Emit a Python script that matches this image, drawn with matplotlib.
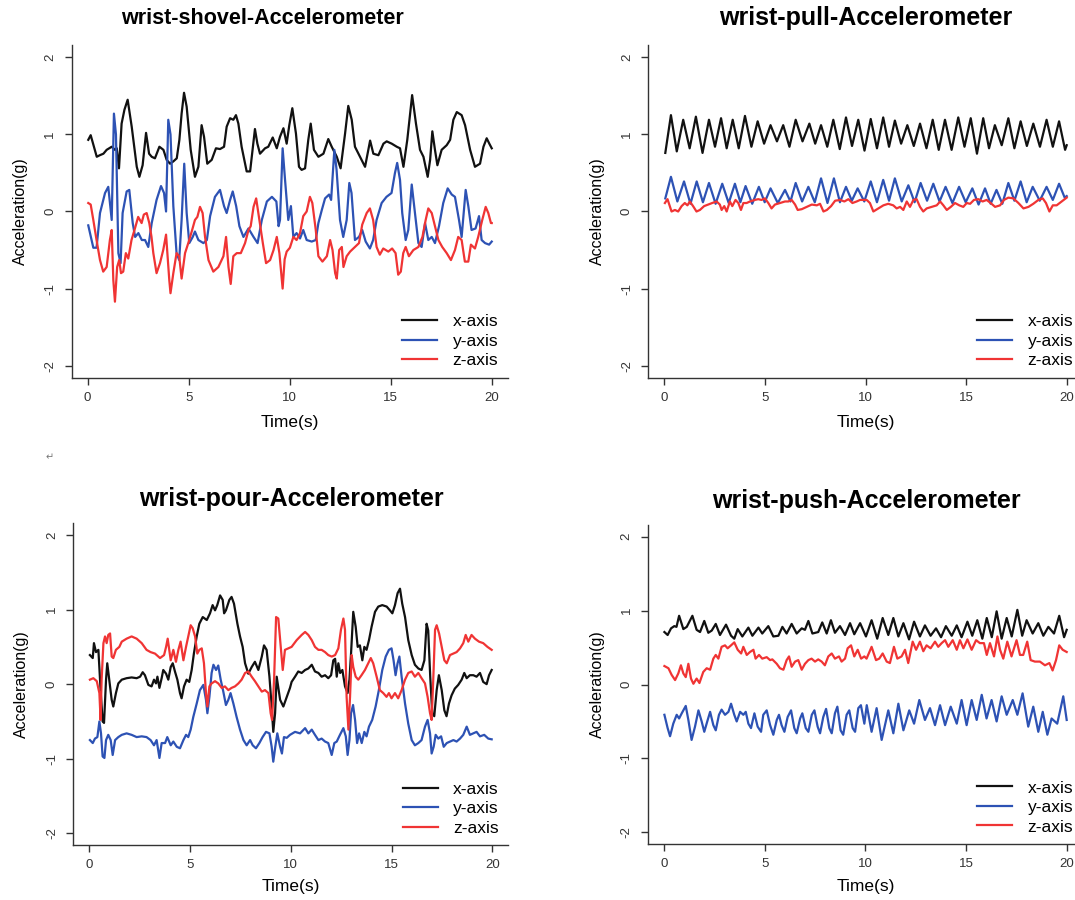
import matplotlib.pyplot as plt

plt.rcParams['font.family'] = ['Liberation Sans', 'DejaVu Sans']
plt.rcParams['axes.unicode_minus'] = False

# ---- data: (time s, acceleration g) ----
shovel_x = [(0.03, 0.93), (0.15, 0.99), (0.45, 0.71), (0.6, 0.73), (0.78, 0.75), (0.94, 0.8), (1.19, 0.84),
            (1.35, 0.8), (1.44, 0.82), (1.55, 0.56), (1.68, 1.14), (1.82, 1.32), (1.98, 1.45), (2.18, 1.1),
            (2.43, 0.58), (2.56, 0.45), (2.72, 0.6), (2.89, 1.02), (3.04, 0.75), (3.17, 0.71), (3.33, 0.69),
            (3.55, 0.84), (3.75, 0.8), (3.91, 0.67), (4.08, 0.62), (4.24, 0.65), (4.41, 0.69), (4.54, 0.93),
            (4.65, 1.27), (4.77, 1.54), (4.9, 1.36), (5.1, 0.8), (5.31, 0.45), (5.48, 0.58), (5.64, 1.12),
            (5.76, 0.97), (5.92, 0.62), (6.14, 0.67), (6.35, 0.82), (6.55, 0.81), (6.75, 0.84), (6.88, 1.1),
            (7.05, 1.21), (7.21, 1.19), (7.34, 1.25), (7.46, 1.14), (7.62, 0.84), (7.87, 0.52), (8.04, 0.52),
            (8.28, 1.07), (8.4, 0.88), (8.53, 0.75), (8.78, 0.82), (8.94, 0.84), (9.16, 0.96), (9.36, 0.82),
            (9.52, 0.97), (9.69, 1.08), (9.85, 0.88), (9.98, 1.12), (10.13, 1.34), (10.31, 1.01), (10.46, 0.58),
            (10.59, 0.54), (10.76, 0.56), (10.92, 0.93), (11.04, 1.14), (11.2, 0.8), (11.42, 0.71), (11.67, 0.75),
            (11.91, 0.94), (12.08, 0.84), (12.33, 0.71), (12.52, 0.56), (12.74, 1.01), (12.9, 1.37), (13.07, 1.19),
            (13.23, 0.84), (13.48, 0.71), (13.73, 0.58), (13.98, 0.92), (14.14, 0.75), (14.39, 0.73), (14.64, 0.88),
            (14.8, 0.91), (15.05, 0.88), (15.3, 0.84), (15.46, 0.82), (15.63, 0.58), (15.82, 0.93), (16.06, 1.51),
            (16.25, 1.14), (16.45, 0.8), (16.62, 0.71), (16.83, 0.45), (16.95, 0.67), (17.06, 1.04), (17.19, 0.8),
            (17.31, 0.6), (17.52, 0.8), (17.77, 0.86), (17.94, 0.93), (18.1, 1.19), (18.27, 1.29), (18.51, 1.25),
            (18.68, 1.12), (18.93, 0.8), (19.17, 0.58), (19.42, 0.62), (19.59, 0.84), (19.75, 0.95), (19.88, 0.88),
            (20.0, 0.82)]
shovel_y = [(0.03, -0.18), (0.28, -0.47), (0.44, -0.47), (0.61, -0.02), (0.86, 0.24), (1.02, 0.32), (1.19, -0.11),
            (1.3, 1.27), (1.4, 1.0), (1.52, -0.54), (1.63, -0.67), (1.73, -0.02), (1.93, 0.26), (2.06, 0.28),
            (2.23, -0.15), (2.35, -0.33), (2.51, -0.28), (2.68, -0.37), (2.84, -0.37), (3.0, -0.46), (3.17, -0.15),
            (3.41, 0.15), (3.63, 0.33), (3.78, 0.24), (3.88, 0.0), (3.99, 1.19), (4.1, 1.0), (4.24, 0.07),
            (4.4, -0.54), (4.53, -0.63), (4.65, -0.11), (4.78, 0.62), (4.9, -0.02), (5.03, -0.41), (5.2, -0.33),
            (5.31, -0.26), (5.48, -0.37), (5.73, -0.41), (5.9, -0.37), (6.06, -0.06), (6.3, 0.19), (6.55, 0.28),
            (6.75, 0.07), (6.88, -0.02), (7.05, 0.15), (7.18, 0.26), (7.35, 0.07), (7.51, -0.19), (7.71, -0.33),
            (7.96, -0.22), (8.21, -0.33), (8.41, -0.41), (8.62, -0.11), (8.87, 0.13), (9.12, 0.19), (9.34, 0.13),
            (9.45, -0.19), (9.52, -0.11), (9.65, 0.82), (9.77, 0.41), (9.93, -0.11), (10.06, 0.07), (10.18, -0.33),
            (10.34, -0.28), (10.51, -0.35), (10.67, -0.24), (10.84, -0.37), (11.09, -0.39), (11.29, -0.37),
            (11.42, -0.15), (11.59, 0.02), (11.75, 0.17), (11.95, 0.22), (12.05, 0.15), (12.21, 0.8), (12.32, 0.54),
            (12.49, -0.11), (12.65, -0.33), (12.82, -0.11), (12.95, 0.37), (13.06, 0.24), (13.23, -0.37),
            (13.43, -0.33), (13.59, -0.24), (13.76, -0.39), (13.97, -0.48), (14.13, -0.37), (14.3, -0.11),
            (14.55, 0.11), (14.79, 0.19), (15.04, 0.24), (15.21, 0.5), (15.32, 0.63), (15.46, 0.41), (15.57, -0.02),
            (15.74, -0.37), (15.87, -0.24), (16.04, 0.35), (16.2, -0.02), (16.37, -0.41), (16.53, -0.46),
            (16.7, -0.15), (16.86, -0.37), (17.03, -0.33), (17.19, -0.41), (17.39, -0.19), (17.6, 0.11), (17.82, 0.3),
            (18.02, 0.22), (18.18, 0.19), (18.38, -0.11), (18.51, -0.33), (18.71, 0.28), (18.84, 0.07), (19.0, -0.24),
            (19.2, -0.22), (19.37, -0.06), (19.5, -0.37), (19.67, -0.41), (19.87, -0.43), (20.0, -0.39)]
shovel_z = [(0.03, 0.11), (0.15, 0.09), (0.28, -0.11), (0.44, -0.37), (0.61, -0.63), (0.77, -0.78), (0.94, -0.72),
            (1.1, -0.37), (1.19, -0.24), (1.27, -0.89), (1.35, -1.17), (1.46, -0.72), (1.56, -0.63), (1.65, -0.8),
            (1.76, -0.78), (1.89, -0.54), (2.01, -0.61), (2.17, -0.37), (2.34, -0.22), (2.5, -0.07), (2.67, -0.15),
            (2.78, -0.04), (2.92, -0.02), (3.05, -0.15), (3.16, -0.33), (3.25, -0.54), (3.41, -0.8), (3.58, -0.67),
            (3.74, -0.5), (3.88, -0.3), (4.04, -0.89), (4.1, -1.06), (4.24, -0.8), (4.4, -0.54), (4.53, -0.58),
            (4.65, -0.87), (4.82, -0.54), (4.98, -0.41), (5.15, -0.26), (5.31, -0.11), (5.43, -0.07), (5.56, 0.06),
            (5.69, -0.02), (5.81, -0.33), (5.98, -0.63), (6.22, -0.78), (6.47, -0.72), (6.72, -0.58), (6.85, -0.33),
            (6.97, -0.72), (7.08, -0.94), (7.21, -0.58), (7.38, -0.54), (7.58, -0.54), (7.79, -0.41), (7.96, -0.24),
            (8.07, -0.19), (8.21, 0.06), (8.34, 0.17), (8.5, -0.11), (8.67, -0.41), (8.83, -0.67), (9.03, -0.63),
            (9.2, -0.5), (9.36, -0.33), (9.49, -0.54), (9.65, -1.0), (9.75, -0.62), (9.85, -0.52), (10.01, -0.47),
            (10.18, -0.33), (10.34, -0.37), (10.51, -0.28), (10.67, -0.06), (10.84, 0.0), (11.0, 0.19),
            (11.12, 0.11), (11.29, -0.24), (11.42, -0.58), (11.62, -0.65), (11.84, -0.58), (12.0, -0.37),
            (12.12, -0.5), (12.25, -0.8), (12.33, -0.87), (12.45, -0.5), (12.58, -0.46), (12.66, -0.72),
            (12.82, -0.58), (12.99, -0.52), (13.23, -0.46), (13.43, -0.41), (13.59, -0.17), (13.81, -0.02),
            (13.97, 0.04), (14.13, -0.11), (14.3, -0.46), (14.46, -0.56), (14.63, -0.48), (14.88, -0.52),
            (15.07, -0.48), (15.24, -0.54), (15.37, -0.82), (15.5, -0.78), (15.62, -0.54), (15.74, -0.46),
            (15.9, -0.58), (16.12, -0.5), (16.37, -0.46), (16.57, -0.33), (16.73, -0.11), (16.86, 0.04),
            (17.03, -0.02), (17.19, -0.19), (17.36, -0.37), (17.55, -0.46), (17.77, -0.54), (17.98, -0.63),
            (18.18, -0.5), (18.34, -0.33), (18.51, -0.37), (18.67, -0.65), (18.84, -0.65), (18.97, -0.43),
            (19.17, -0.48), (19.33, -0.33), (19.53, -0.11), (19.7, 0.06), (19.83, -0.02), (19.96, -0.15),
            (20.0, -0.15)]

pull_x = [(0.05, 0.76), (0.33, 1.25), (0.62, 0.78), (0.94, 1.19), (1.26, 0.82), (1.57, 1.23), (1.9, 0.76),
          (2.22, 1.19), (2.52, 0.84), (2.82, 1.21), (3.1, 0.82), (3.4, 1.19), (3.7, 0.82), (4.01, 1.24),
          (4.33, 0.84), (4.64, 1.17), (4.96, 0.88), (5.28, 1.12), (5.6, 0.91), (5.91, 1.12), (6.22, 0.84),
          (6.53, 1.19), (6.87, 0.91), (7.21, 1.14), (7.5, 0.88), (7.79, 1.12), (8.1, 0.84), (8.4, 1.19),
          (8.72, 0.81), (9.03, 1.22), (9.33, 0.85), (9.64, 1.19), (9.95, 0.79), (10.26, 1.2), (10.57, 0.82),
          (10.88, 1.22), (11.17, 0.84), (11.46, 1.18), (11.77, 0.88), (12.08, 1.12), (12.4, 0.85), (12.71, 1.14),
          (13.03, 0.82), (13.34, 1.19), (13.64, 0.8), (13.95, 1.19), (14.28, 0.8), (14.61, 1.22), (14.92, 0.84),
          (15.23, 1.21), (15.54, 0.75), (15.85, 1.21), (16.14, 0.82), (16.43, 1.12), (16.77, 0.86), (17.1, 1.21),
          (17.4, 0.82), (17.71, 1.17), (18.02, 0.85), (18.34, 1.14), (18.67, 0.84), (19.0, 1.19), (19.31, 0.84),
          (19.62, 1.17), (19.92, 0.8), (20.0, 0.86)]
pull_y = [(0.05, 0.17), (0.33, 0.45), (0.65, 0.13), (0.98, 0.39), (1.3, 0.1), (1.61, 0.39), (1.92, 0.12),
          (2.22, 0.37), (2.55, 0.1), (2.88, 0.36), (3.2, 0.11), (3.51, 0.36), (3.78, 0.12), (4.04, 0.33),
          (4.37, 0.1), (4.7, 0.32), (4.99, 0.12), (5.28, 0.3), (5.64, 0.11), (6.0, 0.28), (6.27, 0.13),
          (6.53, 0.37), (6.85, 0.13), (7.16, 0.32), (7.48, 0.12), (7.79, 0.43), (8.11, 0.11), (8.43, 0.43),
          (8.73, 0.12), (9.03, 0.32), (9.32, 0.14), (9.61, 0.3), (9.94, 0.13), (10.26, 0.39), (10.57, 0.12),
          (10.88, 0.41), (11.17, 0.14), (11.46, 0.43), (11.8, 0.13), (12.13, 0.34), (12.44, 0.12), (12.74, 0.37),
          (13.06, 0.14), (13.37, 0.36), (13.68, 0.13), (13.98, 0.32), (14.32, 0.11), (14.65, 0.32), (14.98, 0.12),
          (15.31, 0.3), (15.62, 0.09), (15.94, 0.3), (16.22, 0.1), (16.51, 0.28), (16.8, 0.1), (17.1, 0.37),
          (17.4, 0.14), (17.71, 0.39), (18.01, 0.12), (18.31, 0.32), (18.66, 0.14), (19.0, 0.32), (19.31, 0.15),
          (19.62, 0.36), (19.9, 0.18), (20.0, 0.2)]
pull_z = [(0.03, 0.11), (0.16, 0.16), (0.36, 0.0), (0.53, 0.02), (0.69, 0.0), (0.86, 0.07), (1.02, 0.11),
          (1.15, 0.08), (1.27, 0.13), (1.43, 0.07), (1.6, 0.0), (1.77, 0.02), (1.98, 0.07), (2.18, 0.09),
          (2.38, 0.11), (2.6, 0.13), (2.76, 0.09), (2.85, 0.02), (2.98, 0.07), (3.1, 0.0), (3.26, 0.13),
          (3.38, 0.07), (3.54, 0.15), (3.68, 0.11), (3.81, 0.02), (3.93, 0.11), (4.09, 0.11), (4.26, 0.13),
          (4.5, 0.15), (4.67, 0.16), (4.83, 0.15), (5.0, 0.17), (5.17, 0.11), (5.33, 0.04), (5.5, 0.09),
          (5.75, 0.11), (6.0, 0.13), (6.16, 0.13), (6.33, 0.15), (6.5, 0.09), (6.63, 0.02), (6.83, 0.03),
          (7.08, 0.06), (7.33, 0.09), (7.58, 0.08), (7.74, 0.1), (7.91, 0.0), (8.08, 0.02), (8.29, 0.07),
          (8.49, 0.14), (8.74, 0.15), (8.95, 0.13), (9.15, 0.16), (9.35, 0.11), (9.56, 0.13), (9.73, 0.15),
          (9.9, 0.15), (10.06, 0.15), (10.22, 0.11), (10.39, 0.0), (10.64, 0.04), (10.89, 0.08), (11.13, 0.1),
          (11.38, 0.08), (11.55, 0.04), (11.72, 0.06), (11.88, 0.02), (12.05, 0.13), (12.21, 0.06), (12.38, 0.15),
          (12.54, 0.16), (12.71, 0.06), (12.87, 0.0), (13.04, 0.04), (13.29, 0.06), (13.54, 0.08), (13.71, 0.13),
          (13.87, 0.08), (14.04, 0.02), (14.24, 0.06), (14.45, 0.11), (14.66, 0.08), (14.86, 0.06), (15.03, 0.11),
          (15.2, 0.1), (15.39, 0.15), (15.61, 0.16), (15.82, 0.13), (16.02, 0.15), (16.22, 0.11), (16.44, 0.06),
          (16.69, 0.08), (16.88, 0.15), (17.1, 0.18), (17.35, 0.17), (17.6, 0.11), (17.85, 0.04), (18.1, 0.06),
          (18.34, 0.1), (18.59, 0.15), (18.81, 0.17), (18.97, 0.11), (19.14, 0.0), (19.31, 0.08), (19.5, 0.08),
          (19.75, 0.13), (20.0, 0.18)]

pour_x = [(0.03, 0.39), (0.17, 0.35), (0.23, 0.55), (0.33, 0.43), (0.45, 0.46), (0.56, -0.08), (0.66, -0.5),
          (0.73, -0.52), (0.83, 0.06), (0.89, 0.28), (0.99, 0.06), (1.11, -0.21), (1.19, -0.3), (1.32, -0.12),
          (1.44, 0.01), (1.61, 0.06), (1.85, 0.08), (2.1, 0.09), (2.35, 0.08), (2.52, 0.1), (2.65, 0.16),
          (2.76, 0.12), (2.93, -0.01), (3.09, -0.03), (3.21, 0.06), (3.31, 0.01), (3.38, 0.1), (3.48, -0.05),
          (3.59, 0.08), (3.67, 0.19), (3.81, 0.14), (3.92, 0.06), (4.04, 0.23), (4.14, 0.28), (4.25, 0.17),
          (4.37, 0.06), (4.5, -0.12), (4.58, -0.19), (4.7, -0.03), (4.83, 0.06), (4.96, 0.03), (5.08, 0.19),
          (5.19, 0.41), (5.33, 0.64), (5.46, 0.81), (5.63, 0.9), (5.83, 0.86), (5.99, 0.95), (6.12, 1.06),
          (6.24, 0.99), (6.35, 1.06), (6.49, 1.19), (6.62, 1.13), (6.69, 0.95), (6.78, 0.99), (6.95, 1.13),
          (7.06, 1.17), (7.18, 1.08), (7.35, 0.81), (7.48, 0.64), (7.61, 0.5), (7.73, 0.28), (7.89, 0.14),
          (8.06, 0.23), (8.22, 0.3), (8.39, 0.19), (8.56, 0.37), (8.67, 0.52), (8.8, 0.46), (8.94, 0.1),
          (9.05, -0.3), (9.13, -0.64), (9.22, -0.39), (9.3, 0.1), (9.47, -0.21), (9.63, -0.3), (9.8, -0.17),
          (9.96, -0.05), (10.04, 0.03), (10.21, 0.1), (10.37, 0.17), (10.54, 0.15), (10.71, 0.19), (10.87, 0.21),
          (11.04, 0.26), (11.2, 0.17), (11.37, 0.15), (11.53, 0.1), (11.7, 0.12), (11.86, 0.08), (12.0, 0.12),
          (12.11, 0.32), (12.2, 0.34), (12.28, 0.1), (12.36, 0.28), (12.45, 0.15), (12.56, 0.19), (12.69, -0.03),
          (12.82, -0.12), (12.91, 0.06), (12.99, 0.41), (13.1, 0.97), (13.22, 0.77), (13.32, 0.5), (13.43, 0.52),
          (13.55, 0.32), (13.65, 0.5), (13.76, 0.46), (13.88, 0.59), (14.01, 0.77), (14.18, 0.97), (14.34, 1.04),
          (14.54, 1.06), (14.76, 1.04), (14.92, 0.99), (15.04, 0.95), (15.17, 1.06), (15.3, 1.22), (15.42, 1.28),
          (15.53, 1.08), (15.67, 0.9), (15.83, 0.59), (16.0, 0.39), (16.16, 0.26), (16.33, 0.21), (16.49, 0.19),
          (16.63, 0.32), (16.74, 0.81), (16.82, 0.72), (16.92, 0.1), (17.02, -0.39), (17.12, -0.43),
          (17.24, -0.08), (17.35, 0.12), (17.49, -0.08), (17.62, -0.35), (17.73, -0.43), (17.85, -0.26),
          (17.98, -0.15), (18.14, -0.06), (18.31, -0.01), (18.48, 0.06), (18.61, 0.15), (18.73, 0.08),
          (18.89, 0.12), (19.06, 0.12), (19.22, 0.1), (19.39, 0.15), (19.55, 0.03), (19.72, 0.0), (19.84, 0.12),
          (19.97, 0.19)]
pour_y = [(0.03, -0.75), (0.17, -0.79), (0.28, -0.73), (0.4, -0.71), (0.5, -0.5), (0.58, -0.66), (0.66, -0.97),
          (0.75, -0.99), (0.83, -0.75), (0.94, -0.68), (1.06, -0.75), (1.16, -0.95), (1.28, -0.75), (1.44, -0.71),
          (1.61, -0.68), (1.85, -0.66), (2.1, -0.68), (2.35, -0.71), (2.6, -0.7), (2.84, -0.71), (3.04, -0.75),
          (3.21, -0.82), (3.34, -0.75), (3.48, -0.99), (3.59, -0.79), (3.76, -0.79), (3.87, -0.71), (4.04, -0.82),
          (4.17, -0.77), (4.34, -0.84), (4.5, -0.86), (4.67, -0.75), (4.8, -0.68), (4.91, -0.71), (5.03, -0.61),
          (5.16, -0.44), (5.33, -0.26), (5.49, -0.08), (5.66, -0.01), (5.79, -0.21), (5.86, -0.39), (5.96, -0.17),
          (6.07, 0.15), (6.16, 0.26), (6.29, 0.19), (6.4, 0.25), (6.52, 0.06), (6.65, -0.1), (6.78, -0.28),
          (6.9, -0.21), (7.01, -0.12), (7.15, -0.26), (7.31, -0.44), (7.48, -0.61), (7.65, -0.75), (7.81, -0.82),
          (7.98, -0.75), (8.11, -0.82), (8.27, -0.86), (8.44, -0.79), (8.6, -0.71), (8.77, -0.64), (8.94, -0.66),
          (9.05, -0.84), (9.13, -1.04), (9.23, -0.84), (9.33, -0.66), (9.47, -0.84), (9.56, -0.93), (9.66, -0.71),
          (9.8, -0.72), (9.96, -0.68), (10.21, -0.64), (10.46, -0.66), (10.71, -0.59), (10.87, -0.66),
          (11.04, -0.61), (11.2, -0.68), (11.37, -0.75), (11.53, -0.73), (11.7, -0.77), (11.86, -0.79),
          (12.03, -0.95), (12.16, -0.79), (12.28, -0.77), (12.44, -0.68), (12.61, -0.59), (12.73, -0.7),
          (12.82, -0.95), (12.91, -0.75), (12.99, -0.39), (13.09, -0.28), (13.19, -0.48), (13.29, -0.79),
          (13.39, -0.66), (13.52, -0.79), (13.65, -0.64), (13.76, -0.7), (13.88, -0.57), (14.04, -0.48),
          (14.21, -0.3), (14.37, -0.08), (14.54, 0.19), (14.71, 0.37), (14.87, 0.46), (15.0, 0.48), (15.1, 0.32),
          (15.2, 0.12), (15.3, 0.28), (15.39, 0.37), (15.5, 0.1), (15.67, -0.26), (15.83, -0.53), (16.0, -0.75),
          (16.16, -0.82), (16.33, -0.79), (16.49, -0.75), (16.66, -0.57), (16.79, -0.48), (16.91, -0.66),
          (16.99, -0.93), (17.09, -0.84), (17.19, -0.68), (17.32, -0.73), (17.46, -0.7), (17.59, -0.84),
          (17.74, -0.79), (17.9, -0.77), (18.07, -0.75), (18.23, -0.77), (18.4, -0.73), (18.56, -0.68),
          (18.73, -0.57), (18.89, -0.68), (19.06, -0.66), (19.22, -0.64), (19.39, -0.7), (19.6, -0.68),
          (19.8, -0.73), (19.97, -0.74)]
pour_z = [(0.03, 0.06), (0.2, 0.08), (0.37, 0.04), (0.5, -0.12), (0.56, -0.48), (0.61, 0.06), (0.7, 0.55),
          (0.78, 0.64), (0.86, 0.55), (0.94, 0.66), (1.03, 0.68), (1.11, 0.37), (1.19, 0.35), (1.32, 0.46),
          (1.49, 0.5), (1.61, 0.57), (1.85, 0.61), (2.1, 0.64), (2.35, 0.61), (2.6, 0.55), (2.84, 0.46),
          (3.04, 0.43), (3.26, 0.41), (3.51, 0.35), (3.71, 0.39), (3.81, 0.5), (3.89, 0.61), (3.97, 0.46),
          (4.04, 0.32), (4.17, 0.46), (4.3, 0.3), (4.42, 0.46), (4.53, 0.57), (4.67, 0.32), (4.8, 0.5),
          (4.91, 0.64), (5.03, 0.79), (5.13, 0.75), (5.25, 0.64), (5.36, 0.41), (5.46, 0.46), (5.58, 0.48),
          (5.69, 0.28), (5.79, -0.12), (5.86, -0.3), (5.96, -0.03), (6.07, 0.01), (6.24, 0.04), (6.4, 0.01),
          (6.57, -0.05), (6.73, -0.03), (6.9, -0.08), (7.06, -0.05), (7.23, -0.03), (7.4, 0.01), (7.56, 0.06),
          (7.73, 0.15), (7.89, 0.17), (8.06, 0.1), (8.22, 0.04), (8.39, -0.03), (8.56, -0.1), (8.72, -0.08),
          (8.89, -0.12), (9.0, -0.39), (9.07, -0.48), (9.17, 0.06), (9.27, 0.9), (9.38, 0.88), (9.5, 0.5),
          (9.6, 0.19), (9.71, 0.46), (9.88, 0.48), (10.04, 0.5), (10.29, 0.59), (10.54, 0.66), (10.71, 0.7),
          (10.87, 0.66), (11.04, 0.59), (11.2, 0.5), (11.37, 0.46), (11.53, 0.46), (11.7, 0.43), (11.86, 0.39),
          (12.03, 0.37), (12.2, 0.39), (12.36, 0.48), (12.49, 0.73), (12.61, 0.88), (12.69, 0.73), (12.77, -0.17),
          (12.86, -0.61), (12.94, -0.17), (13.02, 0.39), (13.1, 0.23), (13.22, 0.1), (13.35, 0.06), (13.51, 0.12),
          (13.68, 0.19), (13.84, 0.28), (13.97, 0.35), (14.09, 0.28), (14.26, 0.1), (14.42, -0.08), (14.59, -0.12),
          (14.75, -0.17), (14.87, -0.12), (15.0, -0.19), (15.17, -0.12), (15.33, -0.19), (15.5, -0.08),
          (15.67, 0.06), (15.83, 0.15), (16.0, 0.17), (16.16, 0.1), (16.33, 0.15), (16.49, 0.08), (16.66, 0.01),
          (16.79, -0.17), (16.91, -0.39), (16.99, -0.48), (17.07, 0.06), (17.16, 0.73), (17.24, 0.79),
          (17.36, 0.68), (17.49, 0.5), (17.62, 0.32), (17.74, 0.28), (17.9, 0.39), (18.07, 0.41), (18.23, 0.43),
          (18.4, 0.48), (18.56, 0.55), (18.68, 0.66), (18.81, 0.57), (18.97, 0.66), (19.14, 0.61), (19.34, 0.57),
          (19.55, 0.55), (19.76, 0.5), (19.97, 0.46)]

push_x = [(0.02, 0.71), (0.18, 0.67), (0.35, 0.76), (0.51, 0.79), (0.62, 0.78), (0.75, 0.93), (0.96, 0.75),
          (1.13, 0.78), (1.41, 0.93), (1.62, 0.74), (1.79, 0.71), (2.0, 0.86), (2.2, 0.7), (2.37, 0.73),
          (2.57, 0.82), (2.78, 0.67), (3.08, 0.81), (3.33, 0.66), (3.49, 0.62), (3.66, 0.75), (3.89, 0.65),
          (4.19, 0.77), (4.39, 0.66), (4.69, 0.77), (4.88, 0.69), (5.18, 0.79), (5.43, 0.65), (5.68, 0.66),
          (5.88, 0.78), (6.09, 0.69), (6.34, 0.82), (6.59, 0.69), (6.84, 0.76), (7.0, 0.74), (7.17, 0.86),
          (7.37, 0.69), (7.66, 0.71), (7.86, 0.84), (8.08, 0.69), (8.29, 0.87), (8.49, 0.7), (8.74, 0.79),
          (8.99, 0.67), (9.24, 0.83), (9.45, 0.68), (9.74, 0.83), (10.03, 0.65), (10.31, 0.87), (10.59, 0.62),
          (10.86, 0.9), (11.14, 0.67), (11.39, 0.9), (11.64, 0.65), (11.89, 0.83), (12.17, 0.61), (12.42, 0.85),
          (12.71, 0.65), (12.96, 0.8), (13.24, 0.66), (13.51, 0.76), (13.76, 0.64), (14.0, 0.79), (14.29, 0.66),
          (14.54, 0.8), (14.78, 0.64), (15.07, 0.85), (15.31, 0.66), (15.56, 0.87), (15.81, 0.62), (16.03, 0.9),
          (16.28, 0.64), (16.52, 0.99), (16.77, 0.62), (17.02, 0.9), (17.27, 0.65), (17.55, 1.01), (17.79, 0.66),
          (18.01, 0.87), (18.31, 0.69), (18.59, 0.83), (18.84, 0.66), (19.09, 0.78), (19.37, 0.69), (19.63, 0.93),
          (19.87, 0.64), (20.0, 0.74)]
push_y = [(0.02, -0.41), (0.18, -0.59), (0.3, -0.7), (0.46, -0.53), (0.63, -0.41), (0.75, -0.46), (0.88, -0.39),
          (1.08, -0.29), (1.21, -0.48), (1.37, -0.75), (1.54, -0.57), (1.71, -0.35), (1.87, -0.5), (2.0, -0.64),
          (2.17, -0.48), (2.29, -0.37), (2.45, -0.55), (2.57, -0.62), (2.73, -0.41), (2.86, -0.34), (3.03, -0.41),
          (3.2, -0.37), (3.33, -0.26), (3.49, -0.41), (3.61, -0.5), (3.78, -0.37), (3.94, -0.41), (4.06, -0.37),
          (4.19, -0.53), (4.32, -0.59), (4.49, -0.39), (4.65, -0.57), (4.82, -0.64), (4.93, -0.41), (5.1, -0.35),
          (5.27, -0.55), (5.43, -0.68), (5.6, -0.48), (5.71, -0.41), (5.84, -0.55), (5.98, -0.64), (6.14, -0.44),
          (6.31, -0.35), (6.47, -0.59), (6.59, -0.66), (6.76, -0.46), (6.87, -0.39), (7.04, -0.59), (7.17, -0.64),
          (7.34, -0.41), (7.47, -0.35), (7.63, -0.57), (7.75, -0.66), (7.91, -0.44), (8.05, -0.33), (8.21, -0.59),
          (8.33, -0.66), (8.49, -0.39), (8.61, -0.3), (8.77, -0.62), (8.9, -0.68), (9.07, -0.41), (9.2, -0.35),
          (9.37, -0.59), (9.49, -0.64), (9.65, -0.32), (9.78, -0.28), (9.95, -0.53), (10.07, -0.28),
          (10.31, -0.64), (10.56, -0.32), (10.81, -0.75), (11.14, -0.35), (11.39, -0.66), (11.64, -0.26),
          (11.89, -0.62), (12.18, -0.35), (12.42, -0.53), (12.68, -0.21), (12.96, -0.48), (13.21, -0.32),
          (13.46, -0.55), (13.71, -0.28), (13.96, -0.55), (14.24, -0.3), (14.54, -0.53), (14.78, -0.21),
          (15.03, -0.55), (15.28, -0.21), (15.53, -0.48), (15.78, -0.14), (16.02, -0.46), (16.27, -0.21),
          (16.52, -0.5), (16.77, -0.16), (17.02, -0.41), (17.32, -0.21), (17.55, -0.41), (17.81, -0.12),
          (18.09, -0.57), (18.34, -0.3), (18.59, -0.64), (18.81, -0.37), (19.04, -0.68), (19.25, -0.46),
          (19.53, -0.53), (19.83, -0.16), (20.0, -0.48)]
push_z = [(0.02, 0.25), (0.22, 0.22), (0.38, 0.13), (0.55, 0.06), (0.71, 0.15), (0.84, 0.26), (0.96, 0.15),
          (1.08, 0.1), (1.21, 0.28), (1.34, 0.08), (1.46, 0.01), (1.62, 0.08), (1.76, 0.02), (1.95, 0.17),
          (2.12, 0.22), (2.29, 0.2), (2.45, 0.35), (2.57, 0.4), (2.7, 0.35), (2.86, 0.51), (3.03, 0.53),
          (3.16, 0.49), (3.33, 0.53), (3.49, 0.57), (3.66, 0.47), (3.83, 0.42), (3.94, 0.51), (4.11, 0.4),
          (4.27, 0.44), (4.44, 0.47), (4.55, 0.35), (4.72, 0.4), (4.88, 0.35), (5.1, 0.37), (5.27, 0.33),
          (5.38, 0.34), (5.6, 0.28), (5.76, 0.22), (5.93, 0.2), (6.09, 0.33), (6.21, 0.38), (6.34, 0.24),
          (6.51, 0.31), (6.67, 0.33), (6.84, 0.2), (7.0, 0.28), (7.17, 0.33), (7.33, 0.35), (7.5, 0.31),
          (7.66, 0.34), (7.83, 0.31), (7.99, 0.26), (8.16, 0.38), (8.33, 0.42), (8.49, 0.35), (8.69, 0.38),
          (8.82, 0.31), (8.99, 0.35), (9.12, 0.49), (9.29, 0.53), (9.45, 0.38), (9.62, 0.47), (9.79, 0.35),
          (9.95, 0.38), (10.06, 0.35), (10.31, 0.51), (10.53, 0.33), (10.69, 0.35), (10.86, 0.42), (11.06, 0.31),
          (11.22, 0.29), (11.42, 0.51), (11.59, 0.35), (11.8, 0.38), (11.97, 0.47), (12.13, 0.29), (12.35, 0.58),
          (12.52, 0.47), (12.71, 0.58), (12.88, 0.45), (13.04, 0.53), (13.24, 0.49), (13.46, 0.58), (13.62, 0.51),
          (13.79, 0.56), (13.96, 0.6), (14.12, 0.51), (14.34, 0.6), (14.54, 0.47), (14.7, 0.6), (14.87, 0.49),
          (15.07, 0.61), (15.28, 0.47), (15.5, 0.6), (15.69, 0.56), (15.89, 0.56), (16.03, 0.4), (16.19, 0.56),
          (16.39, 0.38), (16.56, 0.65), (16.69, 0.47), (16.85, 0.35), (17.05, 0.58), (17.26, 0.38), (17.51, 0.6),
          (17.68, 0.4), (17.84, 0.4), (18.04, 0.58), (18.21, 0.33), (18.42, 0.31), (18.67, 0.31), (18.92, 0.26),
          (19.14, 0.29), (19.3, 0.19), (19.47, 0.33), (19.63, 0.53), (19.8, 0.47), (20.0, 0.44)]

titles = ['wrist-shovel-Accelerometer', 'wrist-pull-Accelerometer',
          'wrist-pour-Accelerometer', 'wrist-push-Accelerometer']
series_names = ['x-axis', 'y-axis', 'z-axis']
colors = ['#111111', '#2d52b4', '#f03434']
xticks = [0, 5, 10, 15, 20]
yticks = [-2, -1, 0, 1, 2]

W, H = 1075, 900
fig = plt.figure(figsize=(10.75, 9), dpi=100)

# panel layout in pixels: axes box (left, top, right, bottom), title centre and size, y-label x, x-label y
layout = [
    dict(box=(71.5, 45, 507.9, 378), title=(262, 18), tsize=15.5, ylab=20, xlab=423),
    dict(box=(648.2, 45, 1082.8, 378), title=(866, 18), tsize=18, ylab=597, xlab=423),
    dict(box=(73.2, 523.1, 508.4, 845.2), title=(291, 499), tsize=18, ylab=21, xlab=887),
    dict(box=(647.9, 524.9, 1082.8, 844.1), title=(866, 500.7), tsize=18, ylab=597, xlab=887),
]
data = [(shovel_x, shovel_y, shovel_z), (pull_x, pull_y, pull_z),
        (pour_x, pour_y, pour_z), (push_x, push_y, push_z)]

for title, lay, group in zip(titles, layout, data):
    l, t, r, b = lay['box']
    ax = fig.add_axes([l / W, 1 - b / H, (r - l) / W, (b - t) / H])
    for pairs, name, c in zip(group, series_names, colors):
        tt, vv = zip(*pairs)
        ax.plot(tt, vv, color=c, lw=1.6, label=name)
    ax.set_xlim(-0.8, 20.8)
    ax.set_ylim(-2.16, 2.16)
    ax.set_xticks(xticks)
    ax.set_yticks(yticks)
    ax.set_yticklabels([str(v) for v in yticks], rotation=90, va='center')
    ax.tick_params(direction='out', length=5, width=1, colors='#333333', labelsize=9.5)
    ax.tick_params(axis='x', pad=5)
    ax.tick_params(axis='y', pad=6)
    for s in ['top', 'right']:
        ax.spines[s].set_visible(False)
    for s in ['left', 'bottom']:
        ax.spines[s].set_color('#333333')
        ax.spines[s].set_linewidth(1)
    ax.legend(loc='lower right', frameon=False, fontsize=12.5, handlelength=2.0,
              handletextpad=0.9, labelspacing=0.25, borderpad=0, borderaxespad=0.55)

    cx = (l + r) / 2
    cy = (t + b) / 2
    fig.text(lay['title'][0] / W, 1 - lay['title'][1] / H, title, ha='center', va='center',
             fontsize=lay['tsize'], fontweight='bold')
    fig.text(lay['ylab'] / W, 1 - cy / H, 'Acceleration(g)', rotation=90, ha='center', va='center',
             fontsize=11.5)
    fig.text(cx / W, 1 - lay['xlab'] / H, 'Time(s)', ha='center', va='center', fontsize=12.5)

fig.text(50 / W, 1 - 457 / H, '\u21b5', fontsize=7, color='#777777', ha='center', va='center',
         family=['DejaVu Sans'])

fig.savefig('out.png', dpi=100)
